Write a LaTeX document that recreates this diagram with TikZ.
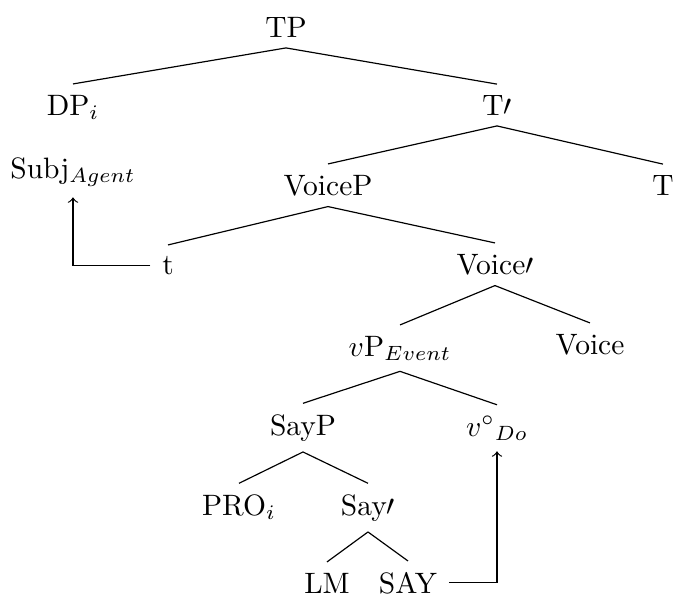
\documentclass[tikz,border=0pt]{standalone}
\begin{document}
\begin{tikzpicture}[x=0.339pt, y=-0.339pt,
  lbl/.style={anchor=base, inner xsep=4pt, inner ysep=3.7pt, outer sep=0pt},
  branch/.style={draw=black, line width=0.4pt},
  mover/.style={draw=black, line width=0.4pt, ->}]
\useasboundingbox (0,0) rectangle (674,598);
% nodes
\node[lbl] (TP)    at (286,37)  {TP};
\node[lbl] (DP)    at (73,115)  {DP$_i$};
\node[lbl] (subj)  at (73,178)  {Subj$_{Agent}$};
\node[lbl] (Tbar)  at (497,115) {T$\prime$};
\node[lbl] (VoiceP) at (328,195) {VoiceP};
\node[lbl] (T)     at (663,195) {T};
\node[lbl] (t)     at (168,274) {t};
\node[lbl] (Vbar)  at (495,274) {Voice$\prime$};
\node[lbl] (vP)    at (400,356) {$v$P$_{Event}$};
\node[lbl] (Voice) at (590,354) {Voice};
\node[lbl] (SayP)  at (303,435) {SayP};
\node[lbl] (vdo)   at (497,436) {$v^\circ{}_{Do}$};
\node[lbl] (PRO)   at (239,515) {PRO$_i$};
\node[lbl] (Saybar) at (368,515) {Say$\prime$};
\node[lbl] (LM)    at (327,593) {LM};
\node[lbl] (SAY)   at (408,593) {SAY};
% branches
\draw[branch] (TP.south) -- (DP.north);
\draw[branch] (TP.south) -- (Tbar.north);
\draw[branch] (Tbar.south) -- (VoiceP.north);
\draw[branch] (Tbar.south) -- (T.north);
\draw[branch] (VoiceP.south) -- (t.north);
\draw[branch] (VoiceP.south) -- (Vbar.north);
\draw[branch] (Vbar.south) -- (vP.north);
\draw[branch] (Vbar.south) -- (Voice.north);
\draw[branch] (vP.south) -- (SayP.north);
\draw[branch] (vP.south) -- (vdo.north);
\draw[branch] (SayP.south) -- (PRO.north);
\draw[branch] (SayP.south) -- (Saybar.north);
\draw[branch] (Saybar.south) -- (LM.north);
\draw[branch] (Saybar.south) -- (SAY.north);
% movement arrows
\draw[mover] (t.west) -| (subj.south);
\draw[mover] (SAY.east) -| (vdo.south);
\end{tikzpicture}
\end{document}
